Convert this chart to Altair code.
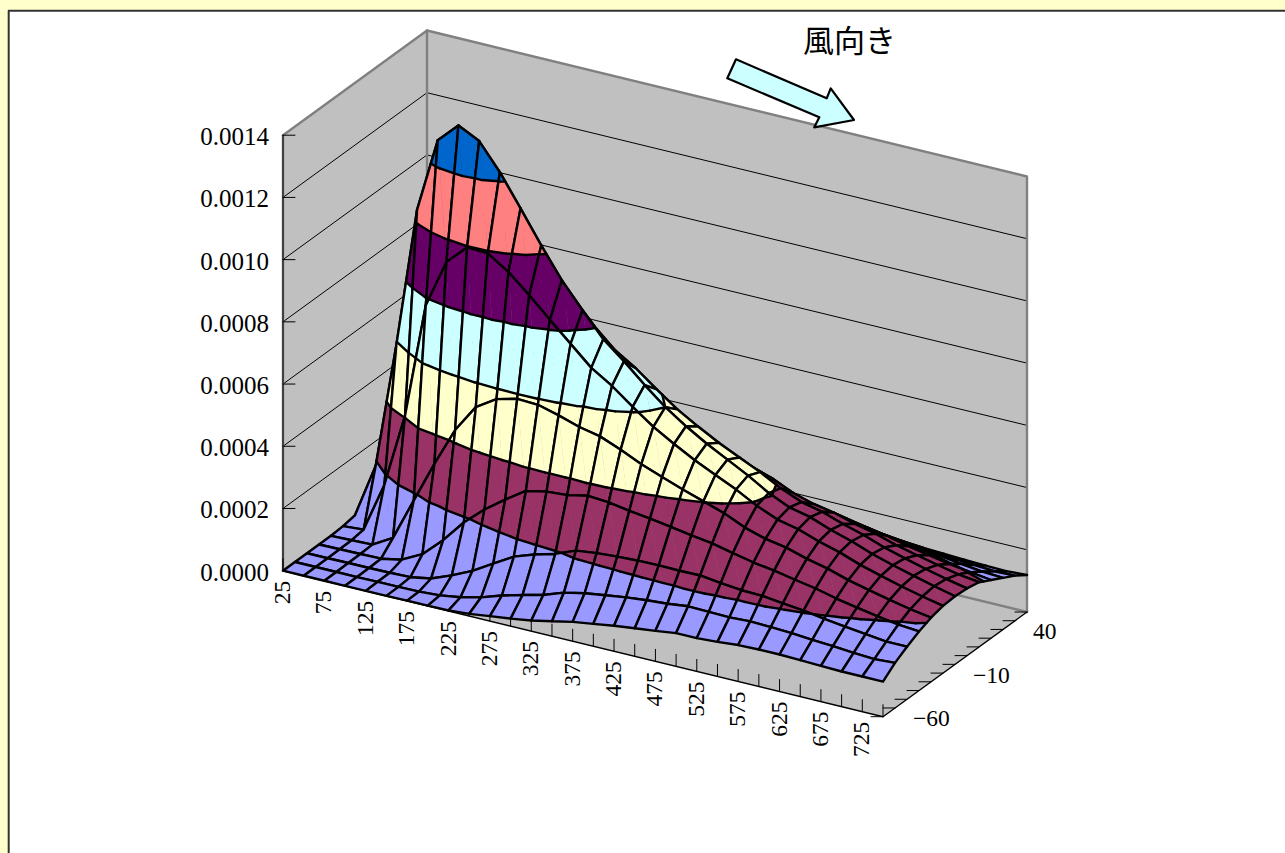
import altair as alt

# Ground-level concentration: one list per downwind distance, crosswind -60 .. 60 (units of 1e-6)
distances = list(range(25, 775, 25))
crosswind = list(range(-60, 70, 10))
conc_e6 = [
    [0, 0, 0, 0, 0, 3, 10, 15, 4, 0, 0, 0, 0],
    [0, 0, 0, 1, 2, 8, 185, 12, 2, 0, 0, 0, 0],
    [0, 0, 1, 2, 4, 168, 590, 168, 4, 2, 0, 0, 0],
    [0, 0, 1, 3, 42, 407, 1040, 407, 30, 3, 0, 0, 0],
    [0, 1, 2, 16, 178, 777, 1280, 777, 173, 14, 0, 0, 0],
    [0, 1, 4, 50, 312, 933, 1344, 933, 312, 50, 4, 0, 0],
    [1, 2, 16, 111, 437, 996, 1310, 996, 437, 111, 16, 1, 0],
    [1, 6, 42, 184, 527, 993, 1226, 993, 527, 184, 42, 6, 1],
    [2, 16, 73, 242, 569, 949, 1126, 949, 569, 242, 73, 16, 2],
    [7, 32, 112, 290, 586, 891, 1023, 891, 588, 294, 112, 32, 7],
    [16, 54, 151, 334, 583, 828, 927, 828, 589, 334, 151, 54, 16],
    [24, 72, 174, 348, 565, 767, 847, 767, 570, 348, 174, 72, 24],
    [34, 88, 192, 353, 544, 706, 770, 706, 544, 353, 192, 88, 34],
    [48, 112, 219, 367, 530, 664, 715, 664, 532, 367, 219, 112, 50],
    [62, 126, 227, 362, 503, 613, 655, 613, 503, 362, 227, 126, 61],
    [72, 136, 232, 351, 473, 565, 600, 565, 473, 351, 232, 136, 70],
    [82, 145, 235, 342, 448, 526, 555, 526, 448, 342, 235, 145, 80],
    [90, 152, 236, 332, 424, 490, 515, 490, 424, 332, 236, 152, 89],
    [98, 157, 235, 321, 402, 459, 480, 459, 402, 321, 235, 157, 96],
    [107, 165, 236, 311, 380, 428, 445, 428, 380, 311, 236, 165, 107],
    [107, 163, 228, 296, 350, 392, 405, 392, 350, 296, 228, 168, 115],
    [111, 162, 221, 282, 330, 364, 375, 364, 330, 282, 221, 170, 122],
    [117, 165, 219, 272, 318, 349, 360, 349, 318, 272, 222, 172, 128],
    [119, 163, 211, 259, 298, 326, 335, 326, 298, 259, 214, 170, 127],
    [119, 160, 204, 247, 283, 307, 315, 307, 283, 247, 206, 165, 125],
    [117, 154, 194, 231, 262, 283, 290, 283, 262, 231, 196, 158, 122],
    [115, 150, 185, 218, 246, 264, 270, 264, 246, 218, 187, 152, 119],
    [113, 145, 177, 206, 231, 246, 252, 246, 231, 206, 178, 147, 117],
    [113, 141, 169, 196, 217, 230, 235, 230, 217, 196, 170, 143, 115],
    [113, 145, 169, 190, 206, 216, 219, 216, 208, 187, 166, 145, 119],
]
levels = [0.0002 * n for n in range(8)]
level_labels = ["0.0000", "0.0002", "0.0004", "0.0006", "0.0008", "0.0010", "0.0012", "0.0014"]
band_colors = ["#9999FF", "#993366", "#FFFFCC", "#CCFFFF", "#660066", "#FF8080", "#0066CC"]
crosswind_labels = {-60: "\u221260", -10: "\u221210", 40: "40"}

W, H = 1285, 853
ni, nk = len(distances), len(crosswind)
vmax = levels[-1]


def project(i, k, v=0.0):
    """Oblique projection of (distance index, crosswind index, value) onto the page."""
    fx, fk = i / (ni - 1), k / (nk - 1)
    return [round(283 + 600 * fx + 144 * fk, 2),
            round(570.7 + 146 * fx - 104.7 * fk - 435.5 * v / vmax, 2)]


def feature(kind, coords, fill="transparent", stroke="transparent", sw=0.0):
    geom = {"type": "Polygon", "coordinates": [coords]} if kind == "poly" else \
           {"type": "LineString", "coordinates": coords}
    return {"type": "Feature", "geometry": geom,
            "properties": {"fill": fill, "stroke": stroke, "sw": sw}}


def polygon(coords, fill, stroke="transparent", sw=0.0):
    return feature("poly", coords + [coords[0]], fill, stroke, sw)


def line(coords, stroke, sw):
    return feature("line", coords, stroke=stroke, sw=sw)


def clip(tri, lo, hi):
    """Clip a polygon of (i, k, v) vertices to the value band lo..hi."""
    def cut(poly, keep, level):
        out = []
        for a, b in zip(poly, poly[1:] + poly[:1]):
            ka, kb = keep(a[2]), keep(b[2])
            if ka:
                out.append(a)
            if ka != kb:
                f = (level - a[2]) / (b[2] - a[2])
                out.append(tuple(a[n] + f * (b[n] - a[n]) for n in range(3)))
        return out
    poly = cut(list(tri), lambda v: v >= lo, lo)
    return cut(poly, lambda v: v <= hi, hi) if poly else []


def contour_segment(tri, level):
    pts = []
    for a, b in zip(tri, tri[1:] + tri[:1]):
        if (a[2] < level) != (b[2] < level):
            f = (level - a[2]) / (b[2] - a[2])
            pts.append(tuple(a[n] + f * (b[n] - a[n]) for n in range(3)))
    return pts if len(pts) == 2 else None


GREY, WALL = "#808080", "#C0C0C0"
frame = [polygon([[8.7, 10.8], [W + 20, 10.8], [W + 20, H + 20], [8.7, H + 20]], "#FFFFFF", "#333333", 2)]

# Walls, floor, gridlines and tick marks
last_i, last_k = ni - 1, nk - 1
walls = [
    polygon([project(0, 0), project(0, 0, vmax), project(0, last_k, vmax), project(0, last_k)], WALL),
    polygon([project(0, last_k), project(0, last_k, vmax), project(last_i, last_k, vmax), project(last_i, last_k)], WALL),
    polygon([project(0, 0), project(last_i, 0), project(last_i, last_k), project(0, last_k)], WALL),
]
for lv in levels[1:-1]:
    walls.append(line([project(0, 0, lv), project(0, last_k, lv), project(last_i, last_k, lv)], "#000000", 1))
walls.append(line([project(0, 0, vmax), project(0, last_k, vmax), project(last_i, last_k, vmax),
                   project(last_i, last_k)], GREY, 2.4))
walls.append(line([project(0, last_k, vmax), project(0, last_k), project(last_i, last_k)], GREY, 2.4))
walls.append(line([project(0, 0), project(0, last_k)], GREY, 2.4))
walls.append(line([project(0, 0, vmax), project(0, 0)], GREY, 2.4))
walls.append(line([project(0, 0, vmax), project(0, 0)], "#000000", 1))
walls.append(line([project(0, 0), project(last_i, 0), project(last_i, last_k)], "#000000", 1.4))
for lv in levels:
    x0, y0 = project(0, 0, lv)
    walls.append(line([[x0, y0], [x0 + 12, y0]], "#000000", 1))
for i in range(ni):
    x0, y0 = project(i, 0)
    walls.append(line([[x0, y0], [x0, y0 - 12]], "#000000", 1))
for k in range(nk):
    x0, y0 = project(last_i, k)
    walls.append(line([[x0, y0], [x0 - 12, y0]], "#000000", 1))

# Surface cells, drawn from the far corner towards the viewer
surface = []
for i in range(ni - 1):
    for k in range(nk - 2, -1, -1):
        a = (i, k + 1, conc_e6[i][k + 1] * 1e-6)
        b = (i + 1, k + 1, conc_e6[i + 1][k + 1] * 1e-6)
        c = (i + 1, k, conc_e6[i + 1][k] * 1e-6)
        d = (i, k, conc_e6[i][k] * 1e-6)
        triangles = ([a, b, c], [a, c, d])
        for tri in triangles:
            for n, color in enumerate(band_colors):
                piece = clip(tri, levels[n], levels[n + 1])
                if len(piece) >= 3:
                    surface.append(polygon([project(*p) for p in piece], color, color, 0.6))
        for tri in triangles:
            for lv in levels[1:-1]:
                seg = contour_segment(tri, lv)
                if seg:
                    surface.append(line([project(*p) for p in seg], "#000000", 2.4))
        surface.append(line([project(*p) for p in (a, b, c, d, a)], "#000000", 2.4))

# Wind-direction arrow
arrow_outline = [[736, 59.3], [727.3, 78.3], [819.3, 117.3], [814.3, 127.3], [854, 120], [830.7, 88.3], [826.7, 98.3]]
arrow = [polygon(arrow_outline, "#CCFFFF", "#000000", 2.2)]


def shapes(features):
    return alt.Chart(alt.Data(values=features)).mark_geoshape(strokeJoin="round", strokeCap="round").encode(
        fill=alt.Fill("properties.fill:N", scale=None),
        stroke=alt.Stroke("properties.stroke:N", scale=None),
        strokeWidth=alt.StrokeWidth("properties.sw:Q", scale=None),
    ).project(type="identity", scale=1, translate=[0, 0])


value_rows = [{"px": project(0, 0, lv)[0] - 14, "py": project(0, 0, lv)[1] + 2, "label": t}
              for lv, t in zip(levels, level_labels)]
distance_rows = [{"px": project(i, 0)[0], "py": project(i, 0)[1] + 10, "label": str(d)}
                 for i, d in enumerate(distances) if i % 2 == 0 and d <= 725]
crosswind_rows = [{"px": project(last_i, k)[0] + 30, "py": project(last_i, k)[1] + 2.5, "label": crosswind_labels[y]}
                  for k, y in enumerate(crosswind) if y in crosswind_labels]
title_rows = [{"px": 849.5, "py": 43, "label": "風向き"}]

SERIF = "Liberation Serif"


def labels(rows, **mark):
    return alt.Chart(alt.Data(values=rows)).mark_text(baseline="middle", color="#000000", **mark).encode(
        x=alt.X("px:Q", scale=None, axis=None),
        y=alt.Y("py:Q", scale=None, axis=None),
        text="label:N",
    )


chart = alt.layer(
    shapes(frame),
    shapes(walls),
    shapes(surface),
    shapes(arrow),
    labels(value_rows, align="right", font=SERIF, fontSize=25),
    labels(distance_rows, align="right", angle=270, font=SERIF, fontSize=23.5),
    labels(crosswind_rows, align="left", font=SERIF, fontSize=23.5),
    labels(title_rows, align="center", font="Noto Sans CJK JP", fontSize=31),
).properties(
    width=W, height=H, padding=0, background="#FFFFCC",
    autosize=alt.AutoSizeParams(type="none"),
).configure_view(stroke=None)

chart.save("out.html", embed_options={"renderer": "svg", "actions": False})
